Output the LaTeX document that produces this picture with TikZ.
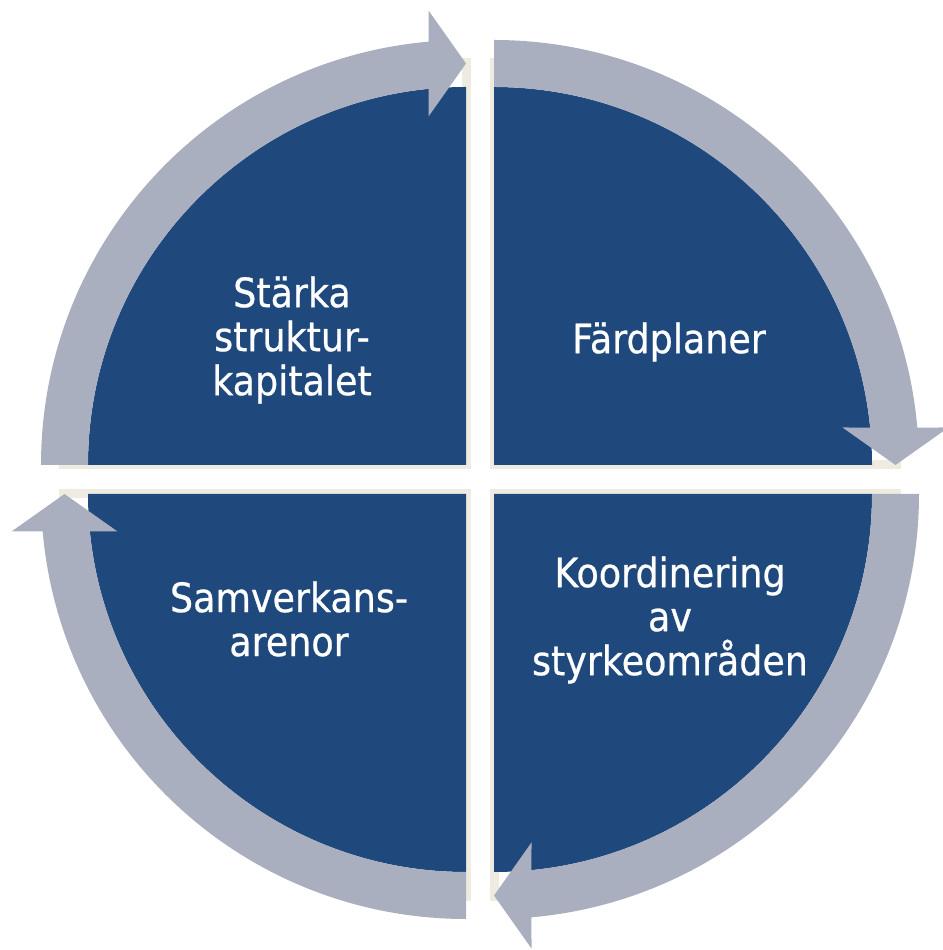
\documentclass[tikz,border=0pt]{standalone}
\usepackage{fontspec}
\setmainfont{DejaVu Sans}[FakeStretch=0.9, FakeBold=0.6]
\usepackage{xcolor}
\usepackage{tikz}
\usetikzlibrary{positioning,calc}

\definecolor{secblue}{RGB}{31,73,125}
\definecolor{ringgray}{RGB}{170,175,191}
\definecolor{rimcream}{RGB}{238,236,225}

\begin{document}
\begin{tikzpicture}[x=1pt, y=1pt,
    sector/.style={fill=secblue},
    ring/.style={fill=ringgray},
    rim/.style={draw=rimcream, line width=9pt},
    quadtext/.style={text=white, align=center, font=\fontsize{40.5}{44}\selectfont}]
    \useasboundingbox (0,0) rectangle (942,950);

    % Top left quarter
    \begin{scope}[shift={(466,485)}]
        \draw[rim] (0,407) -- (0,0) -- (-407,0);
        \fill[sector] (0,0) -- (-378,0) arc[start angle=180, end angle=90, radius=378pt] -- cycle;
        \fill[ring] (-425,0) arc[start angle=180, end angle=95.06, radius=425pt] -- (-37.5,454.5) -- (0,401.5)
            -- (-37.5,348.5) -- (95.69:378) arc[start angle=95.69, end angle=180, radius=378pt] -- cycle;
    \end{scope}

    % Top right quarter
    \begin{scope}[shift={(494,485)}, rotate=-90]
        \draw[rim] (0,407) -- (0,0) -- (-407,0);
        \fill[sector] (0,0) -- (-378,0) arc[start angle=180, end angle=90, radius=378pt] -- cycle;
        \fill[ring] (-425,0) arc[start angle=180, end angle=95.06, radius=425pt] -- (-37.5,454.5) -- (0,401.5)
            -- (-37.5,348.5) -- (95.69:378) arc[start angle=95.69, end angle=180, radius=378pt] -- cycle;
    \end{scope}

    % Bottom right quarter
    \begin{scope}[shift={(494,456)}, rotate=-180]
        \draw[rim] (0,407) -- (0,0) -- (-407,0);
        \fill[sector] (0,0) -- (-378,0) arc[start angle=180, end angle=90, radius=378pt] -- cycle;
        \fill[ring] (-425,0) arc[start angle=180, end angle=95.06, radius=425pt] -- (-37.5,454.5) -- (0,401.5)
            -- (-37.5,348.5) -- (95.69:378) arc[start angle=95.69, end angle=180, radius=378pt] -- cycle;
    \end{scope}

    % Bottom left quarter
    \begin{scope}[shift={(466,456)}, rotate=90]
        \draw[rim] (0,407) -- (0,0) -- (-407,0);
        \fill[sector] (0,0) -- (-378,0) arc[start angle=180, end angle=90, radius=378pt] -- cycle;
        \fill[ring] (-425,0) arc[start angle=180, end angle=95.06, radius=425pt] -- (-37.5,454.5) -- (0,401.5)
            -- (-37.5,348.5) -- (95.69:378) arc[start angle=95.69, end angle=180, radius=378pt] -- cycle;
    \end{scope}

    % Labels
    \node[quadtext] (starka) at (292,610) {Stärka\\struktur-\\kapitalet};
    \node[quadtext] (fardplaner) at (669,608) {Färdplaner};
    \node[quadtext] (koord) at (670,330) {Koordinering\\av\\styrkeområden};
    \node[quadtext] (samverkan) at (289,331) {Samverkans-\\arenor};
\end{tikzpicture}
\end{document}
